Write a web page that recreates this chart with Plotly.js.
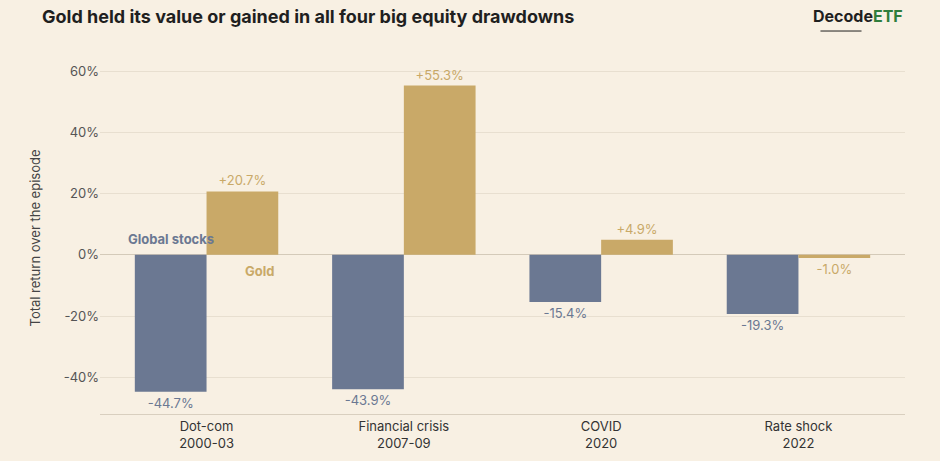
<!DOCTYPE html>
<html><head><meta charset="utf-8">
<script src="https://cdn.plot.ly/plotly-3.0.1.min.js"></script>
<style>body{margin:0;background:#f8f0e3}</style>
</head><body>
<div id="chart" style="width:940px;height:461px"></div>
<script>
const episodes = ['Dot-com<br>2000-03', 'Financial crisis<br>2007-09', 'COVID<br>2020', 'Rate shock<br>2022'];
const stocks = [-44.7, -43.9, -15.4, -19.3];
const gold = [20.7, 55.3, 4.9, -1.0];
const yTicks = [-40, -20, 0, 20, 40, 60];

const stockColor = '#6b7892';
const goldColor = '#c9a968';
const fmt = v => (v > 0 ? '+' : '') + v.toFixed(1) + '%';

const traces = [
  {type: 'bar', x: [0,1,2,3], y: stocks, marker: {color: stockColor}, name: 'Global stocks',
   text: stocks.map(fmt), textposition: 'outside', textfont: {color: stockColor, size: 13, family: 'Inter'}, cliponaxis: false},
  {type: 'bar', x: [0,1,2,3], y: gold, marker: {color: goldColor}, name: 'Gold',
   text: gold.map(fmt), textposition: 'outside', textfont: {color: goldColor, size: 13, family: 'Inter'}, cliponaxis: false}
];

const layout = {
  width: 940, height: 461,
  paper_bgcolor: '#f8f0e3', plot_bgcolor: '#f8f0e3',
  margin: {l: 100, r: 35, t: 62, b: 47},
  showlegend: false,
  barmode: 'group', bargap: 0.273, bargroupgap: 0,
  font: {family: 'Inter, sans-serif', color: '#444'},
  xaxis: {range: [-0.54, 3.54], tickvals: [0,1,2,3], ticktext: episodes, showgrid: false, zeroline: false,
    showline: true, linecolor: '#d9cfbf', tickfont: {size: 13, color: '#333'}, ticks: ''},
  yaxis: {range: [-52, 63], tickvals: yTicks, ticktext: yTicks.map(v => v + '%'), gridcolor: '#e8dfd0',
    zeroline: true, zerolinecolor: '#d4cab9', zerolinewidth: 1, tickfont: {size: 13, color: '#555'}, ticks: '',
    title: {text: 'Total return over the episode', font: {size: 13, color: '#444'}, standoff: 20}},
  annotations: [
    {xref: 'paper', yref: 'paper', x: -0.075, y: 1.13, xanchor: 'left', yanchor: 'middle', showarrow: false,
     text: '<b>Gold held its value or gained in all four big equity drawdowns</b>', font: {size: 18, color: '#1f1f1f'}},
    {xref: 'paper', yref: 'paper', x: 1.0, y: 1.13, xanchor: 'right', yanchor: 'middle', showarrow: false,
     text: '<b>Decode</b><b><span style="color:#2f7d3c">ETF</span></b>', font: {size: 16, color: '#1f1f1f'}},
    {xref: 'x', yref: 'y', x: -0.18, y: 2, xanchor: 'center', yanchor: 'bottom', showarrow: false,
     text: '<b>Global stocks</b>', font: {size: 13, color: stockColor}},
    {xref: 'x', yref: 'y', x: 0.27, y: -2, xanchor: 'center', yanchor: 'top', showarrow: false,
     text: '<b>Gold</b>', font: {size: 13, color: goldColor}}
  ],
  shapes: [
    {type: 'line', xref: 'paper', yref: 'paper', x0: 0.895, x1: 0.946, y0: 1.088, y1: 1.088, line: {color: '#1f1f1f', width: 1}}
  ]
};

Plotly.newPlot('chart', traces, layout, {displayModeBar: false});
</script>
</body></html>
